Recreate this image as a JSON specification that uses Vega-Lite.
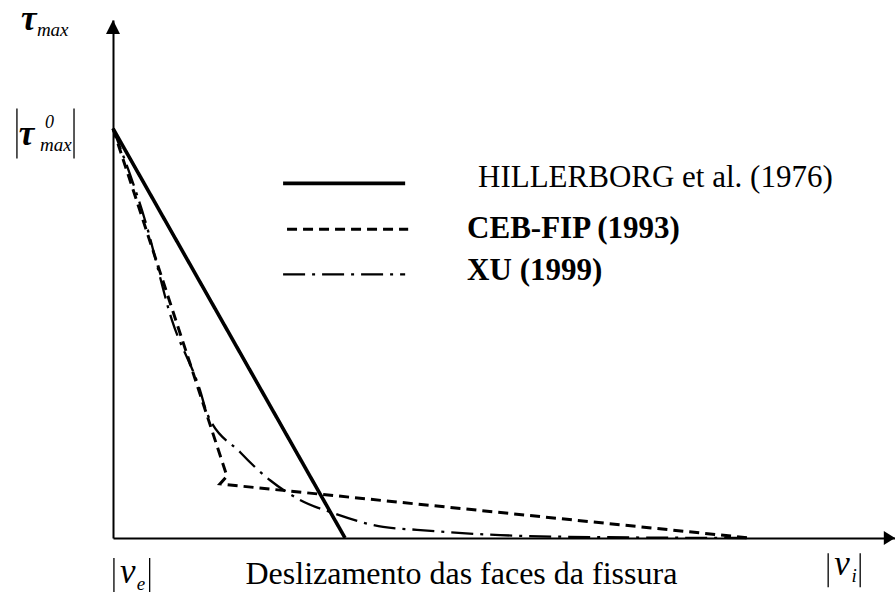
{
  "$schema": "https://vega.github.io/schema/vega-lite/v6.json",
  "width": 782,
  "height": 518,
  "autosize": {"type": "none"},
  "padding": {"left": 113, "top": 20, "right": 0, "bottom": 55},
  "background": "white",
  "config": {"view": {"stroke": null}, "font": "Liberation Serif"},
  "datasets": {
    "curves": [
      {"series": "HILLERBORG et al. (1976)", "order": 1, "x": 0, "y": 1},
      {"series": "HILLERBORG et al. (1976)", "order": 2, "x": 1, "y": 0},
      {"series": "CEB-FIP (1993)", "order": 1, "x": 0, "y": 1},
      {"series": "CEB-FIP (1993)", "order": 2, "x": 0.491, "y": 0.151},
      {"series": "CEB-FIP (1993)", "order": 3, "x": 0.461, "y": 0.132},
      {"series": "CEB-FIP (1993)", "order": 4, "x": 2.746, "y": 0},
      {"series": "XU (1999)", "order": 1, "x": 0, "y": 1},
      {"series": "XU (1999)", "order": 2, "x": 0.138, "y": 0.776},
      {"series": "XU (1999)", "order": 3, "x": 0.254, "y": 0.532},
      {"series": "XU (1999)", "order": 4, "x": 0.375, "y": 0.361},
      {"series": "XU (1999)", "order": 5, "x": 0.405, "y": 0.305},
      {"series": "XU (1999)", "order": 6, "x": 0.547, "y": 0.21},
      {"series": "XU (1999)", "order": 7, "x": 0.677, "y": 0.141},
      {"series": "XU (1999)", "order": 8, "x": 0.806, "y": 0.093},
      {"series": "XU (1999)", "order": 9, "x": 0.948, "y": 0.061},
      {"series": "XU (1999)", "order": 10, "x": 1.164, "y": 0.027},
      {"series": "XU (1999)", "order": 11, "x": 1.31, "y": 0.02},
      {"series": "XU (1999)", "order": 12, "x": 1.668, "y": 0.007},
      {"series": "XU (1999)", "order": 13, "x": 2.099, "y": 0.002},
      {"series": "XU (1999)", "order": 14, "x": 2.746, "y": 0}
    ],
    "legendKeys": [
      {"series": "HILLERBORG et al. (1976)", "x": 0.733, "x2": 1.259, "y": 0.866},
      {"series": "CEB-FIP (1993)", "x": 0.75, "x2": 1.272, "y": 0.754},
      {"series": "XU (1999)", "x": 0.733, "x2": 1.259, "y": 0.644}
    ],
    "legendLabels": [
      {"series": "HILLERBORG et al. (1976)", "x": 1.573, "y": 0.856},
      {"series": "CEB-FIP (1993)", "x": 1.526, "y": 0.732},
      {"series": "XU (1999)", "x": 1.526, "y": 0.629}
    ],
    "greek": [
      {"text": "τ", "x": -0.397, "y": 1.24},
      {"text": "τ", "x": -0.406, "y": 0.959}
    ],
    "latin": [
      {"text": "v", "x": 0.03, "y": -0.11},
      {"text": "v", "x": 3.108, "y": -0.09}
    ],
    "subscripts": [
      {"text": "max", "x": -0.328, "y": 1.225},
      {"text": "max", "x": -0.315, "y": 0.946},
      {"text": "e", "x": 0.102, "y": -0.127},
      {"text": "i", "x": 3.182, "y": -0.107}
    ],
    "superscripts": [
      {"text": "0", "x": -0.293, "y": 1.002}
    ],
    "bars": [
      {"x": -0.414, "y": 1.049, "y2": 0.927},
      {"x": -0.168, "y": 1.049, "y2": 0.927},
      {"x": 0.004, "y": -0.049, "y2": -0.132},
      {"x": 0.158, "y": -0.049, "y2": -0.132},
      {"x": 3.082, "y": -0.037, "y2": -0.12},
      {"x": 3.22, "y": -0.037, "y2": -0.12}
    ],
    "arrows": [
      {"kind": "x", "x": 3.37, "y": 0},
      {"kind": "y", "x": 0, "y": 1.265}
    ]
  },
  "encoding": {
    "x": {
      "field": "x", "type": "quantitative",
      "scale": {"domain": [0, 3.37], "nice": false, "zero": false},
      "axis": {
        "domain": true, "domainColor": "black", "domainWidth": 2,
        "ticks": false, "labels": false, "grid": false,
        "title": "Deslizamento das faces da fissura",
        "titleFont": "Liberation Serif", "titleFontSize": 32, "titleFontWeight": "normal",
        "titleColor": "black", "titleX": 132, "titleY": 45,
        "titleAlign": "left", "titleAnchor": "start", "titleBaseline": "alphabetic"
      }
    },
    "y": {
      "field": "y", "type": "quantitative",
      "scale": {"domain": [0, 1.265], "nice": false, "zero": false},
      "axis": {
        "domain": true, "domainColor": "black", "domainWidth": 2,
        "ticks": false, "labels": false, "grid": false, "title": null
      }
    }
  },
  "layer": [
    {
      "data": {"name": "curves"},
      "transform": [{"filter": "datum.series != 'XU (1999)'"}],
      "mark": {"type": "line", "color": "black", "interpolate": "linear"},
      "encoding": {
        "detail": {"field": "series", "type": "nominal"},
        "order": {"field": "order", "type": "quantitative"},
        "strokeDash": {
          "field": "series", "type": "nominal", "legend": null,
          "scale": {
            "domain": ["HILLERBORG et al. (1976)", "CEB-FIP (1993)", "XU (1999)"],
            "range": [[1, 0], [10, 6], [22, 7, 3, 7]]
          }
        },
        "strokeWidth": {
          "field": "series", "type": "nominal", "legend": null,
          "scale": {
            "domain": ["HILLERBORG et al. (1976)", "CEB-FIP (1993)", "XU (1999)"],
            "range": [3.6, 2.3, 2.3]
          }
        }
      }
    },
    {
      "data": {"name": "curves"},
      "transform": [{"filter": "datum.series == 'XU (1999)'"}],
      "mark": {"type": "line", "color": "black", "interpolate": "monotone"},
      "encoding": {
        "detail": {"field": "series", "type": "nominal"},
        "order": {"field": "order", "type": "quantitative"},
        "strokeDash": {"field": "series", "type": "nominal", "legend": null},
        "strokeWidth": {"field": "series", "type": "nominal", "legend": null}
      }
    },
    {
      "data": {"name": "legendKeys"},
      "mark": {"type": "rule", "color": "black"},
      "encoding": {
        "x2": {"field": "x2"},
        "strokeDash": {"field": "series", "type": "nominal", "legend": null},
        "strokeWidth": {"field": "series", "type": "nominal", "legend": null}
      }
    },
    {
      "data": {"name": "legendLabels"},
      "transform": [{"filter": "datum.series == 'HILLERBORG et al. (1976)'"}],
      "mark": {"type": "text", "align": "left", "baseline": "alphabetic", "font": "Liberation Serif", "fontSize": 31, "color": "black"},
      "encoding": {"text": {"field": "series"}}
    },
    {
      "data": {"name": "legendLabels"},
      "transform": [{"filter": "datum.series != 'HILLERBORG et al. (1976)'"}],
      "mark": {"type": "text", "align": "left", "baseline": "alphabetic", "font": "Liberation Serif", "fontSize": 31, "fontWeight": "bold", "color": "black"},
      "encoding": {"text": {"field": "series"}}
    },
    {
      "data": {"name": "greek"},
      "mark": {"type": "text", "align": "left", "baseline": "alphabetic", "font": "Liberation Serif", "fontSize": 35, "fontStyle": "italic", "fontWeight": "bold", "color": "black"},
      "encoding": {"text": {"field": "text"}}
    },
    {
      "data": {"name": "latin"},
      "mark": {"type": "text", "align": "left", "baseline": "alphabetic", "font": "Liberation Serif", "fontSize": 35, "fontStyle": "italic", "color": "black"},
      "encoding": {"text": {"field": "text"}}
    },
    {
      "data": {"name": "subscripts"},
      "mark": {"type": "text", "align": "left", "baseline": "alphabetic", "font": "Liberation Serif", "fontSize": 19, "fontStyle": "italic", "color": "black"},
      "encoding": {"text": {"field": "text"}}
    },
    {
      "data": {"name": "superscripts"},
      "mark": {"type": "text", "align": "left", "baseline": "alphabetic", "font": "Liberation Serif", "fontSize": 18, "fontStyle": "italic", "color": "black"},
      "encoding": {"text": {"field": "text"}}
    },
    {
      "data": {"name": "bars"},
      "mark": {"type": "rule", "color": "black", "strokeWidth": 1.3},
      "encoding": {"y2": {"field": "y2"}}
    },
    {
      "data": {"name": "arrows"},
      "transform": [{"filter": "datum.kind == 'x'"}],
      "mark": {"type": "point", "shape": "M0,0L-1.6,-1L-1.6,1Z", "size": 196, "filled": true, "color": "black", "opacity": 1, "strokeWidth": 0}
    },
    {
      "data": {"name": "arrows"},
      "transform": [{"filter": "datum.kind == 'y'"}],
      "mark": {"type": "point", "shape": "M0,0L-1,2L1,2Z", "size": 196, "filled": true, "color": "black", "opacity": 1, "strokeWidth": 0}
    }
  ]
}
